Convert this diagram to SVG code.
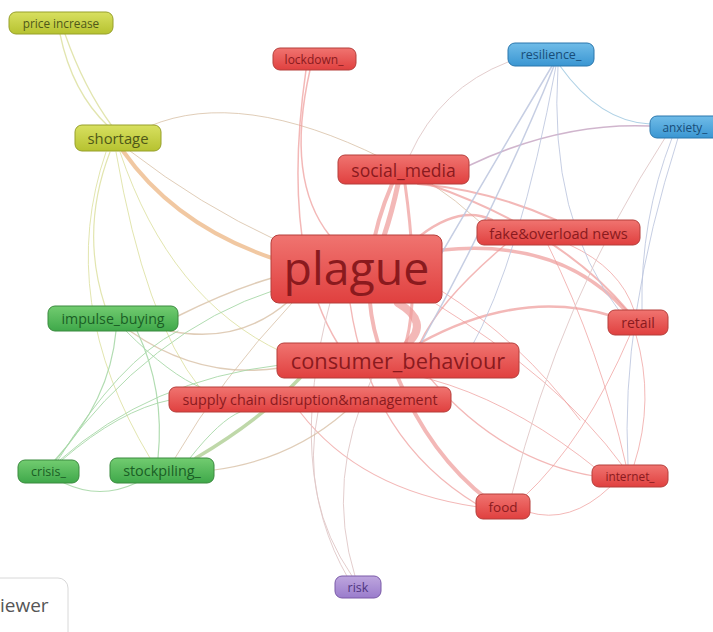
<svg xmlns="http://www.w3.org/2000/svg" width="713" height="632" viewBox="0 0 713 632">
<defs>
<linearGradient id="gR" x1="0" y1="0" x2="0" y2="1"><stop offset="0" stop-color="#f07470"/><stop offset="1" stop-color="#e0403f"/></linearGradient>
<linearGradient id="gG" x1="0" y1="0" x2="0" y2="1"><stop offset="0" stop-color="#72cc70"/><stop offset="1" stop-color="#3fa84a"/></linearGradient>
<linearGradient id="gY" x1="0" y1="0" x2="0" y2="1"><stop offset="0" stop-color="#d8e060"/><stop offset="1" stop-color="#b6c230"/></linearGradient>
<linearGradient id="gB" x1="0" y1="0" x2="0" y2="1"><stop offset="0" stop-color="#70bce8"/><stop offset="1" stop-color="#3a96d2"/></linearGradient>
<linearGradient id="gP" x1="0" y1="0" x2="0" y2="1"><stop offset="0" stop-color="#bea6de"/><stop offset="1" stop-color="#9a7ccc"/></linearGradient>
</defs>
<style>
text{font-family:"Open Sans","Noto Sans","DejaVu Sans",sans-serif;text-anchor:middle;dominant-baseline:central}
.r rect{fill:url(#gR);stroke:#b53e3b;stroke-width:1}
.r text{fill:#8a1a1e}
.g rect{fill:url(#gG);stroke:#3a8a3e;stroke-width:1}
.g text{fill:#1a5e25}
.y rect{fill:url(#gY);stroke:#97a02b;stroke-width:1}
.y text{fill:#4f5818}
.b rect{fill:url(#gB);stroke:#2a77ad;stroke-width:1}
.b text{fill:#184d78}
.p rect{fill:url(#gP);stroke:#7a5aa8;stroke-width:1}
.p text{fill:#4f3480}
#edges path{fill:none;stroke-linecap:round}
.er{stroke:#ee9a98;stroke-opacity:0.7}
.ey{stroke:#dfe2a6;stroke-opacity:0.9}
.eg{stroke:#a8d8a8;stroke-opacity:0.9}
.et{stroke:#d8c0a6;stroke-opacity:0.8}
.eb{stroke:#bcc6de;stroke-opacity:0.85}
.ebl{stroke:#a6cce2;stroke-opacity:0.9}
.ep{stroke:#e0c8c8;stroke-opacity:0.9}
</style>
<rect width="713" height="632" fill="#ffffff"/>
<g id="edges">
<path class="ey" stroke-width="1.3" d="M60,34 Q72,92 108,126"/>
<path class="ey" stroke-width="1.3" d="M65,34 Q84,88 112,126"/>
<path class="et" stroke-width="1" d="M150,126 Q240,88 382,158"/>
<path class="et" stroke-width="1" d="M382,158 Q430,176 480,222"/>
<path stroke="#f0c298" stroke-opacity="0.9" stroke-width="4" d="M123,151 Q175,225 272,258"/>
<path class="et" stroke-width="1" d="M130,151 Q200,205 276,240"/>
<path class="ey" stroke-width="1" d="M120,152 Q170,300 282,352"/>
<path class="ey" stroke-width="1" d="M116,152 Q145,320 200,388"/>
<path class="ey" stroke-width="1.2" d="M110,152 Q80,230 105,306"/>
<path class="ey" stroke-width="1" d="M106,152 Q55,300 150,458"/>
<path class="er" stroke-width="1.5" d="M310,70 Q285,180 330,236"/>
<path class="er" stroke-width="1.5" d="M306,70 Q280,250 338,344"/>
<path class="er" stroke-width="5" d="M398,184 Q392,212 384,236"/>
<path class="er" stroke-width="4" d="M392,184 Q355,270 378,343"/>
<path class="er" stroke-width="3" d="M405,184 Q420,290 406,343"/>
<path class="er" stroke-width="2" d="M418,184 Q490,190 556,220"/>
<path class="er" stroke-width="2" d="M428,184 Q560,230 628,311"/>
<path stroke="#c8a8c4" stroke-opacity="0.85" stroke-width="1.5" d="M468,166 Q560,122 650,126"/>
<path class="ep" stroke-width="1" d="M410,155 Q440,88 508,62"/>
<path class="er" stroke-width="8" d="M398,303 Q430,322 408,343"/>
<path class="er" stroke-width="2.5" d="M420,236 Q460,205 492,220"/>
<path class="er" stroke-width="3.5" d="M442,250 Q560,238 626,311"/>
<path class="er" stroke-width="2.5" d="M420,343 Q520,288 612,316"/>
<path class="er" stroke-width="4" d="M398,378 Q430,455 488,500"/>
<path class="er" stroke-width="1.4" d="M350,303 Q370,440 478,505"/>
<path class="er" stroke-width="1.2" d="M300,412 Q360,490 478,507"/>
<path class="er" stroke-width="1.2" d="M430,378 Q500,460 594,476"/>
<path class="er" stroke-width="1" d="M430,300 Q560,380 622,465"/>
<path class="er" stroke-width="1" d="M636,335 Q655,400 634,465"/>
<path class="er" stroke-width="1" d="M630,335 Q585,440 524,497"/>
<path class="er" stroke-width="1" d="M610,487 Q570,525 528,512"/>
<path class="er" stroke-width="1" d="M570,245 Q620,268 634,310"/>
<path class="er" stroke-width="1" d="M548,245 Q600,350 626,465"/>
<path class="er" stroke-width="1.5" d="M505,245 Q440,300 420,343"/>
<path class="er" stroke-width="1" d="M300,370 Q450,350 598,470"/>
<path class="er" stroke-width="1" d="M440,290 Q520,340 580,420"/>
<path class="ep" stroke-width="1" d="M355,576 Q325,480 372,378"/>
<path class="ep" stroke-width="1" d="M352,576 Q300,500 318,412"/>
<path class="ep" stroke-width="1" d="M348,578 Q285,470 330,303"/>
<path class="eb" stroke-width="1.5" d="M554,66 Q500,200 420,345"/>
<path class="eb" stroke-width="1.5" d="M552,66 Q490,170 440,256"/>
<path class="eb" stroke-width="1" d="M556,66 Q520,260 470,350"/>
<path class="ebl" stroke-width="1.1" d="M560,66 Q600,122 650,124"/>
<path class="eb" stroke-width="1" d="M558,66 Q548,220 620,312"/>
<path class="eb" stroke-width="1" d="M672,138 Q640,220 642,310"/>
<path class="eb" stroke-width="1" d="M678,138 Q620,320 628,465"/>
<path class="ep" stroke-width="1" d="M665,138 Q560,300 512,494"/>
<path class="et" stroke-width="1.5" d="M178,316 Q230,290 272,278"/>
<path class="et" stroke-width="1.5" d="M170,331 Q240,345 290,300"/>
<path class="et" stroke-width="1.5" d="M130,331 Q200,380 280,368"/>
<path class="eg" stroke-width="1" d="M126,331 Q170,375 202,388"/>
<path class="eg" stroke-width="1.2" d="M137,331 Q165,390 158,458"/>
<path class="eg" stroke-width="1.2" d="M116,331 Q110,400 55,460"/>
<path stroke="#b8d4a0" stroke-opacity="0.9" stroke-width="3.5" d="M196,458 Q260,420 300,378"/>
<path class="et" stroke-width="1" d="M175,458 Q220,380 292,303"/>
<path class="eg" stroke-width="1" d="M190,458 Q220,420 240,412"/>
<path class="eg" stroke-width="1.2" d="M136,483 Q100,500 64,483"/>
<path class="et" stroke-width="1.2" d="M214,470 Q290,460 345,412"/>
<path class="eg" stroke-width="1" d="M56,460 Q150,330 275,290"/>
<path class="eg" stroke-width="1" d="M60,460 Q150,380 280,365"/>
<path class="eg" stroke-width="1" d="M62,460 Q120,410 170,400"/>
<path class="eg" stroke-width="1" d="M58,460 Q120,360 178,331"/>
</g>
<g id="n_price_increase" class="y"><rect x="9" y="12" width="104" height="22" rx="7"/><text x="61" y="23" font-size="11.8">price increase</text></g>
<g id="n_lockdown" class="r"><rect x="273" y="48" width="83" height="22" rx="7"/><text x="314" y="59" font-size="12">lockdown_</text></g>
<g id="n_resilience" class="b"><rect x="508" y="43" width="86" height="23" rx="7"/><text x="551" y="54.5" font-size="12.5">resilience_</text></g>
<g id="n_anxiety" class="b"><rect x="650" y="116" width="70" height="22" rx="7"/><text x="685" y="127" font-size="11.8">anxiety_</text></g>
<g id="n_shortage" class="y"><rect x="75" y="125" width="86" height="26" rx="7"/><text x="118" y="138" font-size="14.8">shortage</text></g>
<g id="n_social_media" class="r"><rect x="338" y="155" width="131" height="29" rx="7"/><text x="403.5" y="169.5" font-size="17.5">social_media</text></g>
<g id="n_fake_overload_news" class="r"><rect x="477" y="220" width="163" height="25" rx="7"/><text x="558.5" y="232.5" font-size="14.6">fake&amp;overload news</text></g>
<g id="n_plague" class="r"><rect x="271" y="235" width="171" height="68" rx="8"/><text x="356.5" y="267" font-size="46.5">plague</text></g>
<g id="n_retail" class="r"><rect x="608" y="310" width="60" height="25" rx="7"/><text x="638" y="322.5" font-size="14">retail</text></g>
<g id="n_impulse_buying" class="g"><rect x="48" y="306" width="130" height="25" rx="7"/><text x="113" y="318.5" font-size="14.2">impulse_buying</text></g>
<g id="n_consumer_behaviour" class="r"><rect x="277" y="343" width="242" height="35" rx="7"/><text x="398" y="360.5" font-size="21.8">consumer_behaviour</text></g>
<g id="n_supply_chain" class="r"><rect x="169" y="387" width="282" height="25" rx="7"/><text x="310" y="399.5" font-size="14.3">supply chain disruption&amp;management</text></g>
<g id="n_crisis" class="g"><rect x="18" y="460" width="61" height="23" rx="7"/><text x="48.5" y="471.5" font-size="12.5">crisis_</text></g>
<g id="n_stockpiling" class="g"><rect x="110" y="458" width="104" height="25" rx="7"/><text x="162" y="470" font-size="14.4">stockpiling_</text></g>
<g id="n_internet" class="r"><rect x="592" y="465" width="76" height="22" rx="7"/><text x="630" y="476" font-size="11.8">internet_</text></g>
<g id="n_food" class="r"><rect x="476" y="494" width="54" height="25" rx="7"/><text x="503" y="506.5" font-size="13.5">food</text></g>
<g id="n_risk" class="p"><rect x="335" y="576" width="46" height="22" rx="7"/><text x="358" y="587" font-size="12.5">risk</text></g>
<g id="legend"><rect x="-20" y="578" width="88" height="64" rx="10" fill="#ffffff" stroke="#d8d8d8" stroke-width="1"/><text x="0" y="605" font-size="19" fill="#555555" style="text-anchor:start">iewer</text></g>
</svg>
